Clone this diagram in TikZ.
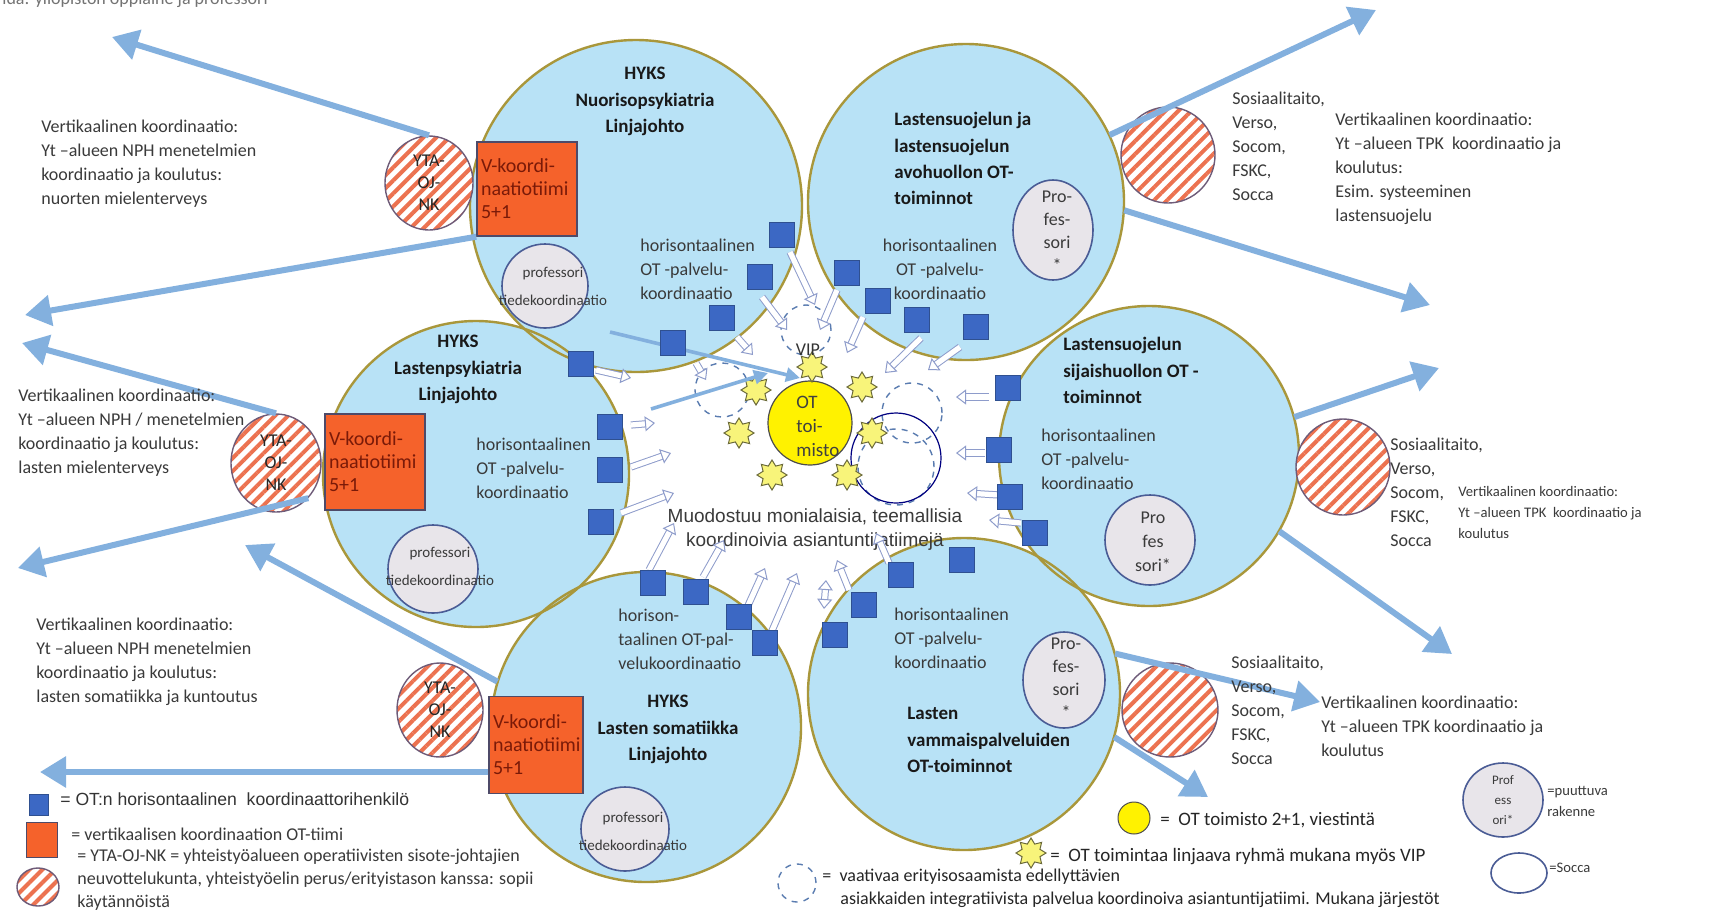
\documentclass[tikz,border=0pt]{standalone}
\usepackage{fontspec}
\setmainfont{Carlito}
\newfontfamily\arialfont{Liberation Sans}
\usetikzlibrary{shapes.geometric,arrows.meta,patterns.meta}
\definecolor{unitfill}{HTML}{B8E2F6}
\definecolor{unitrim}{HTML}{A9973B}
\definecolor{coordblue}{HTML}{3C68C4}
\definecolor{coordrim}{HTML}{2F5090}
\definecolor{teamorange}{HTML}{F5622B}
\definecolor{teamtext}{HTML}{7A1A08}
\definecolor{teamrim}{HTML}{4E4A68}
\definecolor{hatchred}{HTML}{EC7250}
\definecolor{hatchrim}{HTML}{6E5B78}
\definecolor{flowblue}{HTML}{83B0DE}
\definecolor{hollowrim}{HTML}{8E9CCB}
\definecolor{profgrey}{HTML}{E8E5EA}
\definecolor{profrim}{HTML}{4A5C95}
\definecolor{bodygrey}{HTML}{3A3A3A}
\definecolor{staryellow}{HTML}{F8F47A}
\definecolor{starrim}{HTML}{6B6A3A}
\definecolor{dashblue}{HTML}{5A7CB0}
\begin{document}
\begin{tikzpicture}[x=0.5pt,y=-0.5pt,
    unitdisc/.style={circle,fill=unitfill,inner sep=0pt,minimum size=#1},
    unitedge/.style={circle,draw=unitrim,line width=1.2pt,inner sep=0pt,minimum size=#1},
    coordsq/.style={rectangle,fill=coordblue,draw=coordrim,line width=0.4pt,inner sep=0pt,minimum size=12.5pt},
    teambox/.style={rectangle,fill=teamorange,draw=teamrim,line width=0.7pt,inner xsep=2pt,inner ysep=0pt,
        align=left,text=teamtext,font=\fontsize{10}{11.5}\selectfont},
    ytaoval/.style={ellipse,preaction={fill=white},pattern={Lines[angle=45,distance=4.6pt,line width=2pt]},
        pattern color=hatchred,draw=hatchrim,line width=0.7pt,inner sep=0pt,align=center,
        font=\fontsize{9}{11}\selectfont,text=black!85},
    profoval/.style={ellipse,fill=profgrey,draw=profrim,line width=0.8pt,inner sep=0pt},
    profnote/.style={align=center,inner sep=0pt,text=bodygrey},
    ttl/.style={font=\bfseries\fontsize{9.5}{13.2}\selectfont,text=black!90,inner sep=0pt,anchor=north,align=center},
    ttlleft/.style={font=\bfseries\fontsize{9.5}{13.2}\selectfont,text=black!90,inner sep=0pt,anchor=north west,align=left},
    body/.style={font=\fontsize{9}{12}\selectfont,text=bodygrey,inner sep=0pt,anchor=north west,align=left},
    smallbody/.style={font=\fontsize{7.3}{10.5}\selectfont,text=bodygrey,inner sep=0pt,anchor=north west,align=left},
    flow/.style={draw=flowblue,line width=3pt,-{Triangle[length=13pt,width=15pt]}},
    hollow/.style={draw=hollowrim,line width=0.5pt,double=white,double distance=2.6pt,
        -{Triangle[length=5pt,width=7.5pt,fill=white]}},
    vipstar/.style={star,star points=8,star point ratio=1.55,fill=staryellow,draw=starrim,line width=0.5pt,
        minimum size=15pt,inner sep=0pt},
    teamring/.style={circle,draw=dashblue,dashed,line width=0.7pt,inner sep=0pt,minimum size=#1}]
\useasboundingbox (0,0) rectangle (1709,912);
\fill[white] (0,0) rectangle (1709,912);
% the six units
\foreach \k/\x/\y/\r in {1/636/206/166, 2/966/202/158, 3/476/474/153, 4/1149/456/150, 5/646/727/155, 6/964/694/156}
    \node[unitdisc=\r pt] (C\k) at (\x,\y) {};
\foreach \k/\x/\y/\r in {1/636/206/166, 2/966/202/158, 3/476/474/153, 4/1149/456/150, 5/646/727/155, 6/964/694/156}
    \node[unitedge=\r pt] (E\k) at (\x,\y) {};
% centre
\foreach \n/\x/\y/\s in {d1/806/330/25, d2/722/390/27, d3/912/413/30, d4/896/467/38}
    \node[teamring=\s pt] (\n) at (\x,\y) {};
\node[circle,draw=black!50!blue,line width=0.6pt,inner sep=0pt,minimum size=45pt] (socca) at (896,458) {};
\node[circle,fill=yellow,draw=black!70,line width=0.6pt,inner sep=0pt,minimum size=42pt] (office) at (810,423) {};
\node[anchor=north west,align=left,inner sep=0pt,font=\fontsize{9.5}{12}\selectfont,text=black!75] (officetxt) at (796,396) {OT\\toi-\\misto};
\foreach \k/\x/\y in {1/812/367, 2/756/390, 3/862/387, 4/739/433, 5/872/433, 6/772/475, 7/847/475}
    \node[vipstar] (S\k) at (\x,\y) {};
\node[font=\fontsize{9}{10}\selectfont,text=black!80,inner sep=0pt] (vip) at (808,350) {VIP};
\node[font=\arialfont\fontsize{9.5}{12}\selectfont,text=bodygrey,align=center,inner sep=0pt] (theme) at (815,530)
    {Muodostuu monialaisia, teemallisia\\ koordinoivia asiantuntijatiimejä};
% horizontal coordination arrows
\foreach \xa/\ya/\xb/\yb in {790/252/815/305, 762/297/787/330, 737/337/753/355, 696/363/706/380, 837/290/820/330,
    863/317/847/353, 921/338/885/373, 960/347/928/370, 596/370/631/378, 631/425/655/423, 631/467/671/453,
    621/513/674/493, 989/397/956/397, 985/453/956/453, 999/495/967/493, 1021/523/989/520, 649/570/674/523,
    703/577/724/540, 746/610/765/568, 771/633/797/573, 849/590/837/560, 889/563/876/533}
    \draw[hollow] (\xa,\ya) -- (\xb,\yb);
\draw[hollow,{Triangle[length=5pt,width=7.5pt,fill=white]}-{Triangle[length=5pt,width=7.5pt,fill=white]}] (824,609) -- (826,580);
\coordinate (i1s) at (610,332);
\coordinate (i1e) at (800,378);
\coordinate (i2s) at (651,409);
\coordinate (i2e) at (768,373);
\draw[flowblue,line width=1.8pt,-{Triangle[length=7pt,width=7pt]}] (i1s) -- (i1e);
\draw[flowblue,line width=1.8pt,-{Triangle[length=7pt,width=7pt]}] (i2s) -- (i2e);
\foreach \k/\x/\y in {1/782/235, 2/760/277, 3/722/318, 4/673/343, 5/847/273, 6/878/301, 7/917/320, 8/976/327,
    9/581/364, 10/610/427, 11/610/470, 12/601/522, 13/1008/388, 14/999/450, 15/1010/497, 16/1035/533,
    17/653/583, 18/696/592, 19/739/617, 20/765/643, 21/835/635, 22/864/605, 23/901/575, 24/962/560}
    \node[coordsq] (Q\k) at (\x,\y) {};
% vertical coordination
\node[ytaoval,minimum width=44pt,minimum height=47pt] (Y1) at (429,183) {YTA-\\OJ-\\NK};
\node[ytaoval,minimum width=45pt,minimum height=49pt] (Y2) at (276,463) {YTA-\\OJ-\\NK};
\node[ytaoval,minimum width=43pt,minimum height=47pt] (Y3) at (440,710) {YTA-\\OJ-\\NK};
\node[ytaoval,minimum width=47pt,minimum height=48pt] (R1) at (1168,155) {};
\node[ytaoval,minimum width=47pt,minimum height=48pt] (R2) at (1343,467) {};
\node[ytaoval,minimum width=48pt,minimum height=47pt] (R3) at (1170,710) {};
\node[teambox,text width=46pt,minimum height=47pt] (O1) at (527,189) {V-koordi-\\naatiotiimi\\5+1};
\node[teambox,text width=46pt,minimum height=48pt] (O2) at (375,462) {V-koordi-\\naatiotiimi\\5+1};
\node[teambox,text width=43pt,minimum height=48.5pt] (O3) at (536,745) {V-koordi-\\naatiotiimi\\5+1};
\coordinate (a1) at (112,37);
\coordinate (a2) at (25,315);
\coordinate (a3) at (22,343);
\coordinate (a4) at (18,568);
\coordinate (a5) at (245,545);
\coordinate (a6) at (40,772);
\coordinate (b1) at (1376,10);
\coordinate (b2) at (1430,305);
\coordinate (b3) at (1439,368);
\coordinate (b4) at (1452,654);
\coordinate (b5) at (1320,702);
\coordinate (b6) at (1208,797);
\draw[flow] (Y1.north) -- (a1);
\draw[flow] (O1.south west) -- (a2);
\draw[flow] (Y2.north) -- (a3);
\draw[flow] (Y2.south east) -- (a4);
\draw[flow] (C5.163) -- (a5);
\draw[flow] (O3.west |- a6) -- (a6);
\draw[flow] (C2.25) -- (b1);
\draw[flow] (C2.-3) -- (b2);
\draw[flow] (C4.15) -- (b3);
\draw[flow] (C4.-30) -- (b4);
\draw[flow] (C6.15) -- (b5);
\draw[flow] (C6.-16) -- (b6);
% professors
\node[profoval,minimum width=43pt,minimum height=42pt] (P1) at (545,286) {};
\node[profnote,font=\fontsize{7.5}{14}\selectfont] (P1txt) at (553,286) {professori\\tiedekoordinaatio};
\node[profoval,minimum width=45pt,minimum height=44pt] (P3) at (433,569) {};
\node[profnote,font=\fontsize{7.5}{14}\selectfont] (P3txt) at (440,566) {professori\\tiedekoordinaatio};
\node[profoval,minimum width=44pt,minimum height=42pt] (P5) at (625,829) {};
\node[profnote,font=\fontsize{7.5}{14}\selectfont] (P5txt) at (633,831) {professori\\tiedekoordinaatio};
\node[profoval,minimum width=40pt,minimum height=50pt] (P2) at (1053,230) {};
\node[profnote,font=\fontsize{9}{11.5}\selectfont] (P2txt) at (1057,231) {Pro-\\fes-\\sori\\*};
\node[profoval,minimum width=45pt,minimum height=45pt] (P4) at (1150,540) {};
\node[profnote,font=\fontsize{9}{12}\selectfont] (P4txt) at (1153,542) {Pro\\fes\\sori*};
\node[profoval,minimum width=41pt,minimum height=48pt] (P6) at (1064,680) {};
\node[profnote,font=\fontsize{9}{11.5}\selectfont] (P6txt) at (1066,678) {Pro-\\fes-\\sori\\*};
% unit titles
\node[ttl] (T1) at (645,67) {HYKS\\Nuorisopsykiatria\\Linjajohto};
\node[ttlleft] (T2) at (894,112) {Lastensuojelun ja\\lastensuojelun\\avohuollon OT-\\toiminnot};
\node[ttl] (T3) at (458,335) {HYKS\\Lastenpsykiatria\\Linjajohto};
\node[ttlleft] (T4) at (1063,337) {Lastensuojelun\\sijaishuollon OT -\\toiminnot};
\node[ttl] (T5) at (668,695) {HYKS\\Lasten somatiikka\\Linjajohto};
\node[ttlleft] (T6) at (907,707) {Lasten\\vammaispalveluiden\\OT-toiminnot};
\node[body] (H1) at (640,239) {horisontaalinen\\OT -palvelu-\\koordinaatio};
\node[body,anchor=north,align=center] (H2) at (940,239) {horisontaalinen\\OT -palvelu-\\koordinaatio};
\node[body] (H3) at (476,438) {horisontaalinen\\OT -palvelu-\\koordinaatio};
\node[body] (H4) at (1041,429) {horisontaalinen\\OT -palvelu-\\koordinaatio};
\node[body] (H5) at (618,609) {horison-\\taalinen OT-pal-\\velukoordinaatio};
\node[body] (H6) at (894,608) {horisontaalinen\\OT -palvelu-\\koordinaatio};
% side texts
\node[body] (L1) at (41,120) {Vertikaalinen koordinaatio:\\Yt –alueen NPH menetelmien\\koordinaatio ja koulutus:\\nuorten mielenterveys};
\node[body] (L2) at (18,389) {Vertikaalinen koordinaatio:\\Yt –alueen NPH / menetelmien\\koordinaatio ja koulutus:\\lasten mielenterveys};
\node[body] (L3) at (36,618) {Vertikaalinen koordinaatio:\\Yt –alueen NPH menetelmien\\koordinaatio ja koulutus:\\lasten somatiikka ja kuntoutus};
\node[body] (R1list) at (1232,92) {Sosiaalitaito,\\Verso,\\Socom,\\FSKC,\\Socca};
\node[body] (R1vert) at (1335,113) {Vertikaalinen koordinaatio:\\Yt –alueen TPK\ \ koordinaatio ja\\koulutus:\\Esim. systeeminen\\lastensuojelu};
\node[body] (R2list) at (1390,438) {Sosiaalitaito,\\Verso,\\Socom,\\FSKC,\\Socca};
\node[smallbody] (R2vert) at (1458,486) {Vertikaalinen koordinaatio:\\Yt –alueen TPK\ \ koordinaatio ja\\koulutus};
\node[body] (R3list) at (1231,656) {Sosiaalitaito,\\Verso,\\Socom,\\FSKC,\\Socca};
\node[body] (R3vert) at (1321,696) {Vertikaalinen koordinaatio:\\Yt –alueen TPK koordinaatio ja\\koulutus};
\node[anchor=base west,inner sep=0pt,font=\fontsize{9}{10}\selectfont,text=black!55] (cuttxt) at (2,4) {ida: yliopiston oppiaine ja professori};
% legend
\node[coordsq,minimum width=9.5pt,minimum height=10.5pt] (legsq) at (39,805) {};
\node[anchor=west,inner sep=0pt,font=\arialfont\fontsize{8.8}{10}\selectfont,text=black!80] (legsqtxt) at (60,799) {= OT:n horisontaalinen\ \ koordinaattorihenkilö};
\node[rectangle,fill=teamorange,draw=teamrim,line width=0.6pt,minimum width=15.5pt,minimum height=17.5pt,inner sep=0pt] (legbox) at (42,840) {};
\node[body,anchor=west] (legboxtxt) at (71,834) {= vertikaalisen koordinaation OT-tiimi};
\node[ytaoval,minimum width=21pt,minimum height=19pt] (legyta) at (38,887) {};
\node[body,font=\fontsize{9}{11.3}\selectfont] (legytatxt) at (77,849) {= YTA-OJ-NK = yhteistyöalueen operatiivisten sisote-johtajien\\neuvottelukunta, yhteistyöelin perus/erityistason kanssa: sopii\\käytännöistä};
\node[circle,fill=yellow,draw=black!70,line width=0.5pt,minimum size=16pt,inner sep=0pt] (legoffice) at (1134,818) {};
\node[body,anchor=west,font=\fontsize{9.5}{12}\selectfont,text=black!85] (legofficetxt) at (1160,820) {=\ \ OT toimisto 2+1, viestintä};
\node[vipstar] (legstar) at (1031,853) {};
\node[body,anchor=west,font=\fontsize{9.5}{12}\selectfont,text=black!85] (legstartxt) at (1050,857) {=\ \ OT toimintaa linjaava ryhmä mukana myös VIP};
\node[teamring=19pt] (legring) at (797,883) {};
\node[body,anchor=west,text=black!85] (legringtxt) at (822,877) {=\ \ vaativaa erityisosaamista edellyttävien};
\node[body,anchor=west,text=black!85] (legringtxt2) at (840,900) {asiakkaiden integratiivista palvelua koordinoiva asiantuntijatiimi. Mukana järjestöt};
\node[profoval,minimum width=40pt,minimum height=37pt] (legprof) at (1503,800) {};
\node[profnote,font=\fontsize{6.5}{10}\selectfont] (legproftxt) at (legprof) {Prof\\ess\\ori*};
\node[smallbody] (legmissing) at (1547,786) {=puuttuva\\rakenne};
\node[ellipse,draw=profrim,line width=0.8pt,minimum width=28pt,minimum height=20pt,inner sep=0pt] (legsocca) at (1519,873) {};
\node[smallbody,anchor=west] (legsoccatxt) at (1549,868) {=Socca};
\end{tikzpicture}
\end{document}
